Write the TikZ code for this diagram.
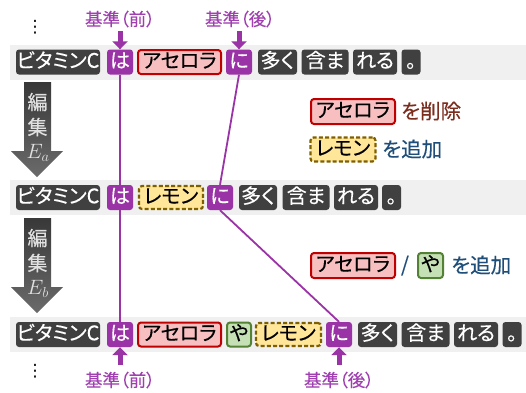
\documentclass[tikz,border=0pt]{standalone}
\usepackage{fontspec}
\newfontfamily\jp{Noto Sans CJK JP}[RawFeature={+palt}, FakeBold=0.35]
\newfontfamily\dejavu{DejaVu Sans}
\usetikzlibrary{arrows.meta,shadings}
\definecolor{tokgray}{HTML}{404040}
\definecolor{bandgray}{HTML}{F0F0F0}
\definecolor{purp}{HTML}{9A33A6}
\definecolor{purptxt}{HTML}{A040B0}
\definecolor{redfill}{HTML}{F8BFC0}
\definecolor{redline}{HTML}{C00000}
\definecolor{yelfill}{HTML}{FFE699}
\definecolor{yelline}{HTML}{7F6000}
\definecolor{grnfill}{HTML}{C5E0B4}
\definecolor{grnline}{HTML}{548235}
\definecolor{brn}{HTML}{7B2D1E}
\definecolor{blu}{HTML}{1F4E79}
\pgfdeclarelayer{band}
\pgfdeclarelayer{lines}
\pgfsetlayers{band,lines,main}
\tikzset{
  tok/.style={rounded corners=3pt, inner sep=0pt, minimum height=25pt, text=white, fill=tokgray,
    font=\jp\fontsize{20}{22}\selectfont, text height=15pt, text depth=3.5pt},
  ptok/.style={tok, fill=purp},
  rtok/.style={tok, fill=redfill, draw=redline, line width=2pt, text=black},
  ytok/.style={tok, fill=yelfill, draw=yelline, line width=2.2pt, dash pattern=on 4pt off 2.2pt, text=black},
  gtok/.style={tok, fill=grnfill, draw=grnline, line width=2pt, text=black},
  lbl/.style={font=\jp\fontsize{17.5}{19}\selectfont, text=purptxt, inner sep=0pt},
  ann/.style={font=\jp\fontsize{20.5}{22}\selectfont, inner sep=0pt, anchor=west},
  link/.style={draw=purp, line width=1.8pt},
  ptr/.style={draw=purp, line width=5pt, -{Triangle[width=15pt,length=8pt]}},
  edit/.style={font=\jp\fontsize{20}{22}\selectfont, text=white!88!black, inner sep=0pt},
  dots/.style={font=\dejavu\fontsize{17}{19}\selectfont, inner sep=0pt},
}
\begin{document}
\begin{tikzpicture}[x=1pt,y=-1pt]
\useasboundingbox (0,0) rectangle (526,392);
% bands
\begin{pgfonlayer}{band}
\fill[bandgray] (10,45) rectangle (526,80);
\fill[bandgray] (10,180) rectangle (526,215);
\fill[bandgray] (10,317) rectangle (526,352);
\end{pgfonlayer}
% row 1
\node[tok, minimum width=84pt] (vit1) at (58,62) {ビタミンC};
\node[ptok, minimum width=26pt] (ha1) at (120,62) {は};
\node[rtok, minimum width=83pt, minimum height=24pt] (ace1) at (179.5,62) {アセロラ};
\node[ptok, minimum width=26pt] (ni1) at (239,62) {に};
\node[tok, minimum width=39pt] (oo1) at (277.5,62) {多く};
\node[tok, minimum width=47pt] (fk1) at (325,62) {含ま};
\node[tok, minimum width=44pt] (rr1) at (375,62) {れる};
\node[tok, minimum width=19pt] (mr1) at (411,62) {。};
% row 2
\node[tok, minimum width=84pt] (vit2) at (58,197.5) {ビタミンC};
\node[ptok, minimum width=26pt] (ha2) at (120,197.5) {は};
\node[ytok, minimum width=64pt, minimum height=23pt] (lem2) at (171,197.5) {レモン};
\node[ptok, minimum width=26pt] (ni2) at (220,197.5) {に};
\node[tok, minimum width=38pt] (oo2) at (258,197.5) {多く};
\node[tok, minimum width=47pt] (fk2) at (306,197.5) {含ま};
\node[tok, minimum width=44pt] (rr2) at (356,197.5) {れる};
\node[tok, minimum width=19pt] (mr2) at (391.5,197.5) {。};
% row 3
\node[tok, minimum width=84pt] (vit3) at (58,334.5) {ビタミンC};
\node[ptok, minimum width=26pt] (ha3) at (120,334.5) {は};
\node[rtok, minimum width=83pt, minimum height=24pt] (ace3) at (179.5,334.5) {アセロラ};
\node[gtok, minimum width=24pt, minimum height=24pt] (ya3) at (239,334.5) {や};
\node[ytok, minimum width=65pt, minimum height=23pt] (lem3) at (288.5,334.5) {レモン};
\node[ptok, minimum width=26pt] (ni3) at (339,334.5) {に};
\node[tok, minimum width=39pt] (oo3) at (377.5,334.5) {多く};
\node[tok, minimum width=48pt] (fk3) at (425.5,334.5) {含ま};
\node[tok, minimum width=44pt] (rr3) at (476,334.5) {れる};
\node[tok, minimum width=19pt] (mr3) at (512,334.5) {。};
% links
\begin{pgfonlayer}{lines}
\draw[link] (ha1.south) -- (ha3.north);
\draw[link] (ni1.south) -- (ni2.north);
\draw[link] (ni2.south) -- (ni3.north);
\end{pgfonlayer}
% top labels and pointers
\node[lbl] (kf1) at (120,19) {基準（前）};
\node[lbl] (kb1) at (240,19) {基準（後）};
\coordinate (pt1) at (120,31);
\coordinate (pt2) at (239,31);
\draw[ptr] (pt1) -- (ha1.north);
\draw[ptr] (pt2) -- (ni1.north);
\node[dots] (d1) at (35,27) {⋮};
% bottom labels and pointers
\node[lbl] (kf3) at (120,380) {基準（前）};
\node[lbl] (kb3) at (339,380) {基準（後）};
\coordinate (pb1) at (120,365);
\coordinate (pb2) at (339,365);
\draw[ptr] (pb1) -- (ha3.south);
\draw[ptr] (pb2) -- (ni3.south);
\node[dots] (d3) at (35,371) {⋮};
% edit arrows
\shade[top color=black!78, bottom color=black!58]
  (24,82) -- (51,82) -- (51,151) -- (63,151) -- (37,177) -- (11,151) -- (24,151) -- cycle;
\node[edit] (ea1) at (37.5,102) {編};
\node[edit] (ea2) at (37.5,127) {集};
\node[edit, font=\fontsize{20}{22}\selectfont] (ea3) at (38,153) {$E_a$};
\shade[top color=black!78, bottom color=black!58]
  (24,218) -- (51,218) -- (51,287) -- (63,287) -- (37,313) -- (11,287) -- (24,287) -- cycle;
\node[edit] (eb1) at (37.5,238) {編};
\node[edit] (eb2) at (37.5,263) {集};
\node[edit, font=\fontsize{20}{22}\selectfont] (eb3) at (38,289) {$E_b$};
% annotations
\node[rtok, minimum width=84pt, minimum height=25pt] (aceA) at (353,111.5) {アセロラ};
\node[ann, text=brn] (del) at (401,111) {を削除};
\node[ytok, minimum width=65pt, minimum height=24pt] (lemA) at (343,149.5) {レモン};
\node[ann, text=blu] (add1) at (382,149) {を追加};
\node[rtok, minimum width=84pt, minimum height=25pt] (aceB) at (353,265.5) {アセロラ};
\node[ann, text=blu, anchor=center] (sl) at (405,265.5) {/};
\node[gtok, minimum width=25pt, minimum height=25pt] (yaB) at (430.5,265.5) {や};
\node[ann, text=blu] (add2) at (451,265) {を追加};
\end{tikzpicture}
\end{document}
